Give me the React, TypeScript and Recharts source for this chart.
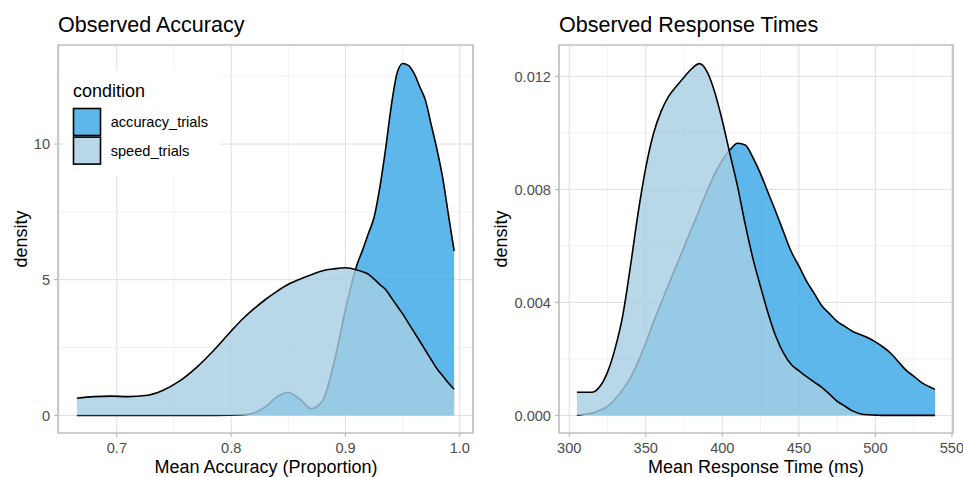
import React from "react";
import { AreaChart, Area, XAxis, YAxis, CartesianGrid, ReferenceArea } from "recharts";

const FONT = "'Liberation Sans', Arial, Helvetica, sans-serif";
const H = 477;

// Observed Accuracy panel
const accX = [
  0.665, 0.68, 0.695, 0.71, 0.725, 0.74, 0.755, 0.77, 0.785, 0.8, 0.81, 0.82, 0.83, 0.84, 0.85, 0.86,
  0.87, 0.88, 0.89, 0.9, 0.91, 0.915, 0.92, 0.925, 0.93, 0.935, 0.94, 0.945, 0.95, 0.955, 0.96, 0.965,
  0.97, 0.975, 0.98, 0.985, 0.99, 0.995,
];
const accAccuracyTrials = [
  0, 0, 0, 0, 0, 0, 0, 0, 0, 0.005, 0.02, 0.09, 0.32, 0.68, 0.84, 0.6,
  0.25, 0.55, 1.95, 3.9, 5.55, 6.1, 6.7, 7.3, 8.4, 9.8, 11.4, 12.6, 12.97, 12.9, 12.6, 12.1,
  11.6, 10.7, 9.8, 8.75, 7.4, 6.05,
];
const accSpeedTrials = [
  0.63, 0.69, 0.71, 0.69, 0.73, 0.92, 1.27, 1.78, 2.41, 3.11, 3.55, 3.93, 4.27, 4.57, 4.83, 5.02,
  5.18, 5.33, 5.4, 5.44, 5.36, 5.29, 5.2, 5.02, 4.82, 4.64, 4.34, 4.04, 3.74, 3.4, 3.07, 2.73,
  2.39, 2.05, 1.72, 1.46, 1.19, 0.96,
];
const accXTicks = [0.7, 0.8, 0.9, 1.0];
const accXMinor = [0.65, 0.75, 0.85, 0.95];
const accYTicks = [0, 5, 10];
const accYMinor = [2.5, 7.5, 12.5];

// Observed Response Times panel
const rtX = [
  305, 310, 315, 320, 325, 330, 335, 340, 345, 350, 355, 360, 365, 370, 375, 380,
  385, 390, 395, 400, 405, 410, 415, 420, 425, 430, 435, 440, 445, 450, 455, 460,
  465, 470, 475, 480, 485, 490, 495, 500, 505, 510, 515, 520, 525, 530, 535, 539,
];
const rtAccuracyTrials = [
  0.00001, 0.00004, 0.00008, 0.00018, 0.00032, 0.00058, 0.00092, 0.00133, 0.0019, 0.00257, 0.0033, 0.00398, 0.00464, 0.0053, 0.00596, 0.00662,
  0.00728, 0.00794, 0.00855, 0.00903, 0.0094, 0.00963, 0.00957, 0.00912, 0.00855, 0.00787, 0.0072, 0.00649, 0.0058, 0.00529, 0.00475, 0.00432,
  0.00388, 0.0036, 0.00333, 0.00315, 0.00298, 0.00286, 0.00275, 0.0026, 0.00242, 0.0022, 0.0019, 0.0016, 0.00139, 0.00117, 0.00102, 0.00092,
];
const rtSpeedTrials = [
  0.00082, 0.00082, 0.00082, 0.00102, 0.00153, 0.00238, 0.00355, 0.00529, 0.00717, 0.00877, 0.00997, 0.01076, 0.0113, 0.01165, 0.01197, 0.01227,
  0.01245, 0.01217, 0.01145, 0.01043, 0.00925, 0.00809, 0.00675, 0.00555, 0.00455, 0.0036, 0.00279, 0.0022, 0.0018, 0.00158, 0.00137, 0.00118,
  0.00099, 0.00075, 0.0005, 0.00033, 0.00016, 0.00006, 0.00002, 0.00001, 0, 0, 0, 0, 0, 0, 0, 0,
];
const rtXTicks = [300, 350, 400, 450, 500, 550];
const rtXMinor = [325, 375, 425, 475, 525];
const rtYTicks = [0, 0.004, 0.008, 0.012];
const rtYMinor = [0.002, 0.006, 0.01];

const conditions = [
  { key: "accuracy_trials", fill: "#4FB1E8", opacity: 0.92 },
  { key: "speed_trials", fill: "#A6CEE3", opacity: 0.8 },
];

const accData = accX.map((x, i) => ({ x, accuracy_trials: accAccuracyTrials[i], speed_trials: accSpeedTrials[i] }));
const rtData = rtX.map((x, i) => ({ x, accuracy_trials: rtAccuracyTrials[i], speed_trials: rtSpeedTrials[i] }));

const tickStyle = { fill: "#4d4d4d", fontSize: 14.6, fontFamily: FONT };

function DensityPanel(props: any) {
  const { data, left, width, margin, yAxisWidth, xDomain, yDomain, xTicks, xMinor, yTicks, yMinor, xFmt, yFmt } = props;
  return (
    <div style={{ position: "absolute", left, top: 0, width, height: H }}>
      <AreaChart width={width} height={H} data={data} margin={margin}>
        <CartesianGrid xAxisId="minor" yAxisId="minor" stroke="#ececec" strokeWidth={0.7} />
        <CartesianGrid stroke="#dedede" strokeWidth={1} />
        <XAxis
          dataKey="x"
          type="number"
          domain={xDomain}
          ticks={xTicks}
          allowDataOverflow
          tickFormatter={xFmt}
          tick={tickStyle}
          tickLine={{ stroke: "#b3b3b3" }}
          tickSize={4}
          tickMargin={6}
          axisLine={false}
          height={40}
        />
        <XAxis xAxisId="minor" dataKey="x" type="number" domain={xDomain} ticks={xMinor} allowDataOverflow hide />
        <YAxis
          type="number"
          domain={yDomain}
          ticks={yTicks}
          allowDataOverflow
          tickFormatter={yFmt}
          tick={tickStyle}
          tickLine={{ stroke: "#b3b3b3" }}
          tickSize={4}
          tickMargin={4}
          axisLine={false}
          width={yAxisWidth}
        />
        <YAxis yAxisId="minor" type="number" domain={yDomain} ticks={yMinor} allowDataOverflow hide />
        {conditions.map((c) => (
          <Area
            key={c.key}
            dataKey={c.key}
            type="monotone"
            baseValue={0}
            fill={c.fill}
            fillOpacity={c.opacity}
            stroke="#000"
            strokeWidth={1.6}
            dot={false}
            activeDot={false}
            isAnimationActive={false}
          />
        ))}
        <ReferenceArea
          x1={xDomain[0]}
          x2={xDomain[1]}
          y1={yDomain[0]}
          y2={yDomain[1]}
          fill="none"
          stroke="#b3b3b3"
          strokeWidth={1.2}
          ifOverflow="visible"
        />
      </AreaChart>
    </div>
  );
}

export default function App() {
  return (
    <div style={{ position: "absolute", left: 0, top: 0, width: 963, height: H, background: "#fff", fontFamily: FONT }}>
      <DensityPanel
        data={accData}
        left={0}
        width={480}
        margin={{ top: 45, right: 7, bottom: 4, left: 8 }}
        yAxisWidth={50}
        xDomain={[0.6485, 1.0115]}
        yDomain={[-0.65, 13.65]}
        xTicks={accXTicks}
        xMinor={accXMinor}
        yTicks={accYTicks}
        yMinor={accYMinor}
        xFmt={(v: number) => v.toFixed(1)}
        yFmt={(v: number) => String(v)}
      />
      <DensityPanel
        data={rtData}
        left={480}
        width={483}
        margin={{ top: 45, right: 10, bottom: 4, left: 19 }}
        yAxisWidth={60}
        xDomain={[293.3, 550.7]}
        yDomain={[-0.000624, 0.01311]}
        xTicks={rtXTicks}
        xMinor={rtXMinor}
        yTicks={rtYTicks}
        yMinor={rtYMinor}
        xFmt={(v: number) => String(v)}
        yFmt={(v: number) => v.toFixed(3)}
      />
      <svg width={963} height={H} style={{ position: "absolute", left: 0, top: 0, pointerEvents: "none" }}>
        <text x={58} y={32} fontSize={21.5} fill="#000">Observed Accuracy</text>
        <text x={559} y={32} fontSize={21.5} fill="#000">Observed Response Times</text>
        <text x={266} y={473} fontSize={18} textAnchor="middle" fill="#000">Mean Accuracy (Proportion)</text>
        <text x={756} y={473} fontSize={18} textAnchor="middle" fill="#000">Mean Response Time (ms)</text>
        <text transform="translate(27,239) rotate(-90)" fontSize={18} textAnchor="middle" fill="#000">density</text>
        <text transform="translate(507,239) rotate(-90)" fontSize={18} textAnchor="middle" fill="#000">density</text>
        <rect x={63} y={71} width={157} height={105} fill="#fff" />
        <text x={73} y={96.5} fontSize={18} fill="#000">condition</text>
        {conditions.map((c, i) => (
          <g key={c.key}>
            <rect x={73.5} y={108.5 + i * 28.6} width={27} height={27} fill="#fff" />
            <rect x={73.5} y={108.5 + i * 28.6} width={27} height={27} fill={c.fill} fillOpacity={c.opacity} stroke="#000" strokeWidth={1.6} />
            <text x={110.7} y={127 + i * 28.6} fontSize={14.6} fill="#000">{c.key}</text>
          </g>
        ))}
      </svg>
    </div>
  );
}
